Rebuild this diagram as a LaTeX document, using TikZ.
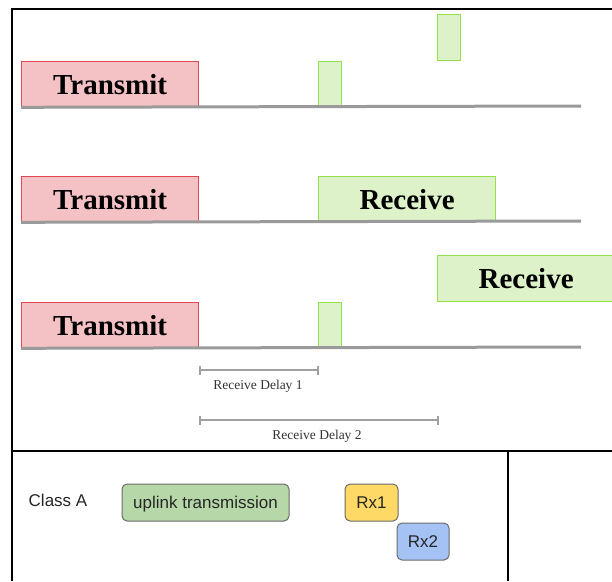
\documentclass[tikz,border=0pt]{standalone}
\usepackage{fontspec}
\setmainfont{Liberation Serif}
\newfontfamily\keyfont{Liberation Sans}
\usetikzlibrary{arrows.meta}

\definecolor{txfill}{HTML}{F4C1C5}
\definecolor{txdraw}{HTML}{E04852}
\definecolor{rxfill}{HTML}{DDF2C8}
\definecolor{rxdraw}{HTML}{93E04C}
\definecolor{axisgray}{HTML}{9A9A9A}
\definecolor{delaygray}{HTML}{A0A0A0}
\definecolor{upfill}{HTML}{B6D7A8}
\definecolor{rxonefill}{HTML}{FFD966}
\definecolor{rxtwofill}{HTML}{A4C2F4}
\definecolor{keyedge}{HTML}{6B6B6B}

\begin{document}
\begin{tikzpicture}[x=1pt,y=-1pt,
  frameline/.style={line width=2.2pt, black},
  slot/.style={line width=1.3pt, anchor=north west, inner sep=0pt, minimum height=45pt,
    font=\fontsize{29}{32}\selectfont\bfseries},
  txbox/.style={slot, draw=txdraw, fill=txfill, minimum width=177pt},
  rxbox/.style={slot, draw=rxdraw, fill=rxfill, minimum width=177pt},
  rxpulse/.style={slot, draw=rxdraw, fill=rxfill, minimum width=23pt},
  timeline/.style={line width=3pt, axisgray},
  delay/.style={line width=1.8pt, delaygray, {Bar[width=9pt]}-{Bar[width=9pt]}},
  delaylabel/.style={font=\fontsize{13.5}{15}\selectfont, text=black!80},
  keybox/.style={draw=keyedge, line width=1pt, rounded corners=5pt, inner sep=0pt,
    minimum height=37pt, text height=12pt, text depth=1pt,
    font=\keyfont\fontsize{17}{19}\selectfont, text=black!85},
]
\useasboundingbox (0,0) rectangle (612,581);
\fill[white] (0,0) rectangle (612,581);

% outer frame and key panel
\coordinate (fbl) at (12,581);
\coordinate (ftl) at (12,9);
\coordinate (ftr) at (612,9);
\coordinate (kl) at (12,451);
\coordinate (kr) at (612,451);
\coordinate (kt) at (508,451);
\coordinate (kb) at (508,581);
\draw[frameline] (fbl) -- (ftl) -- (ftr);
\draw[frameline] (kl) -- (kr);
\draw[frameline] (kt) -- (kb);

% row 1: transmit, two short receive windows
\node[txbox] (tx1) at (21,61) {Transmit};
\node[rxpulse] (p1) at (318,61) {};
\node[rxpulse, minimum height=46pt] (p2) at (437,14) {};
\coordinate (end1) at (581,106);
\draw[timeline] (tx1.south west) -- (end1);

% row 2: transmit, receive in first window
\node[txbox] (tx2) at (21,176) {Transmit};
\node[rxbox] (rx2) at (318,176) {Receive};
\coordinate (end2) at (581,221);
\draw[timeline] (tx2.south west) -- (end2);

% row 3: transmit, short first window, receive in second window
\node[rxbox, minimum height=46pt] (rx3) at (437,255) {Receive};
\node[txbox] (tx3) at (21,302) {Transmit};
\node[rxpulse] (p3) at (318,302) {};
\coordinate (end3) at (581,347);
\draw[timeline] (tx3.south west) -- (end3);

% receive delays
\coordinate (d1a) at (199,370);
\coordinate (d1b) at (319,370);
\coordinate (d2a) at (199,420);
\coordinate (d2b) at (439,420);
\draw[delay] (d1a) -- (d1b);
\draw[delay] (d2a) -- (d2b);
\node[delaylabel] (l1) at (258,386) {Receive Delay 1};
\node[delaylabel] (l2) at (317,436) {Receive Delay 2};

% legend
\node[font=\keyfont\fontsize{17}{19}\selectfont, text=black!85] (cls) at (58,500) {Class A};
\node[keybox, fill=upfill, minimum width=167pt] (up) at (205.5,502.5) {uplink transmission};
\node[keybox, fill=rxonefill, minimum width=53pt] (k1) at (371.5,502.5) {Rx1};
\node[keybox, fill=rxtwofill, minimum width=52pt] (k2) at (423,541.5) {Rx2};
\end{tikzpicture}
\end{document}
